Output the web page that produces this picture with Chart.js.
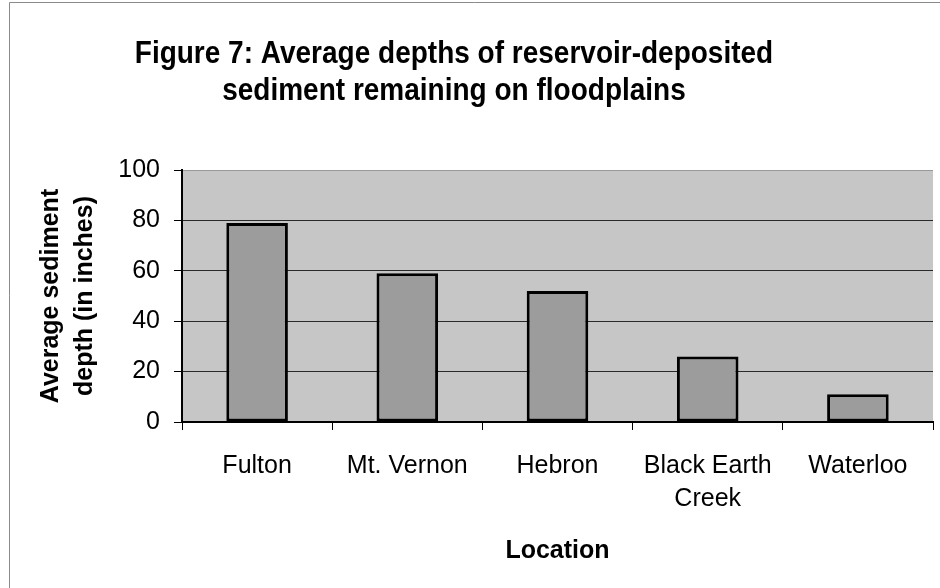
<!DOCTYPE html>
<html>
<head>
<meta charset="utf-8">
<script src="https://cdn.jsdelivr.net/npm/chart.js@4"></script>
<style>
  html, body { margin: 0; padding: 0; background: #fff; }
  #wrap { width: 940px; height: 588px; }
</style>
</head>
<body>
<div id="wrap"><canvas id="barChart" width="940" height="588"></canvas></div>
<script>
// values
var locations = ['Fulton', 'Mt. Vernon', 'Hebron', ['Black Earth', 'Creek'], 'Waterloo'];
var depths = [79, 59, 52, 26, 11];
var titleLines = ['Figure 7: Average depths of reservoir-deposited', 'sediment remaining on floodplains'];

var FONT = "'Liberation Sans', Arial, Helvetica, sans-serif";

// grey plot background, page frame and the two-line title
var decor = {
  id: 'decor',
  beforeDraw: function(chart) {
    var c = chart.ctx, a = chart.chartArea;
    c.save();
    c.fillStyle = '#c6c6c6';
    c.fillRect(a.left, a.top, a.right - a.left, a.bottom - a.top);
    c.strokeStyle = '#8a8a8a';
    c.lineWidth = 1;
    c.beginPath();
    c.moveTo(9.5, 2.5); c.lineTo(9.5, 588);
    c.moveTo(9.5, 2.5); c.lineTo(940, 2.5);
    c.stroke();
    c.fillStyle = '#000';
    c.font = 'bold 28px ' + FONT;
    c.textAlign = 'center';
    c.textBaseline = 'alphabetic';
    // the scanned title font is a bit taller than Liberation Sans
    c.save(); c.translate(454, 63); c.scale(1, 1.15); c.fillText(titleLines[0], 0, 0); c.restore();
    c.save(); c.translate(454, 100); c.scale(1, 1.15); c.fillText(titleLines[1], 0, 0); c.restore();
    c.restore();
  }
};

var ctx = document.getElementById('barChart').getContext('2d');
var chart = new Chart(ctx, {
  type: 'bar',
  data: {
    labels: locations,
    datasets: [{
      label: 'Average sediment depth',
      data: depths,
      backgroundColor: '#9c9c9c',
      borderColor: '#000',
      borderWidth: 3,
      borderSkipped: false,
      categoryPercentage: 0.41,
      barPercentage: 1
    }]
  },
  options: {
    responsive: false,
    animation: false,
    layout: { padding: { top: 170, right: 7, left: 0, bottom: 0 } },
    plugins: {
      legend: { display: false },
      tooltip: { enabled: false }
    },
    scales: {
      x: {
        afterFit: function(s) { s.height = 166; },
        grid: {
          offset: true,
          drawOnChartArea: false,
          tickLength: 8,
          color: '#000',
          lineWidth: 1
        },
        border: { color: '#000', width: 2 },
        ticks: {
          color: '#000',
          padding: 20,
          maxRotation: 0,
          autoSkip: false,
          font: { family: FONT, size: 25, lineHeight: 1.3 }
        },
        title: {
          display: true,
          text: 'Location',
          color: '#000',
          font: { family: FONT, size: 25, weight: 'bold', lineHeight: 1.2 },
          padding: { top: 0, bottom: 22 }
        }
      },
      y: {
        min: 0,
        max: 100,
        afterFit: function(s) { s.width = 182; },
        grid: {
          color: function(c) { return c.tick.value === 100 ? '#999' : '#2a2a2a'; },
          tickColor: '#000',
          tickLength: 8,
          lineWidth: 1
        },
        border: { color: '#000', width: 2 },
        ticks: {
          stepSize: 20,
          color: '#000',
          padding: 14,
          font: { family: FONT, size: 25 }
        },
        title: {
          display: true,
          text: ['Average sediment', 'depth (in inches)'],
          color: '#000',
          font: { family: FONT, size: 25, weight: 'bold', lineHeight: 1.36 },
          padding: { top: 34, bottom: 0 }
        }
      }
    }
  },
  plugins: [decor]
});
</script>
</body>
</html>
